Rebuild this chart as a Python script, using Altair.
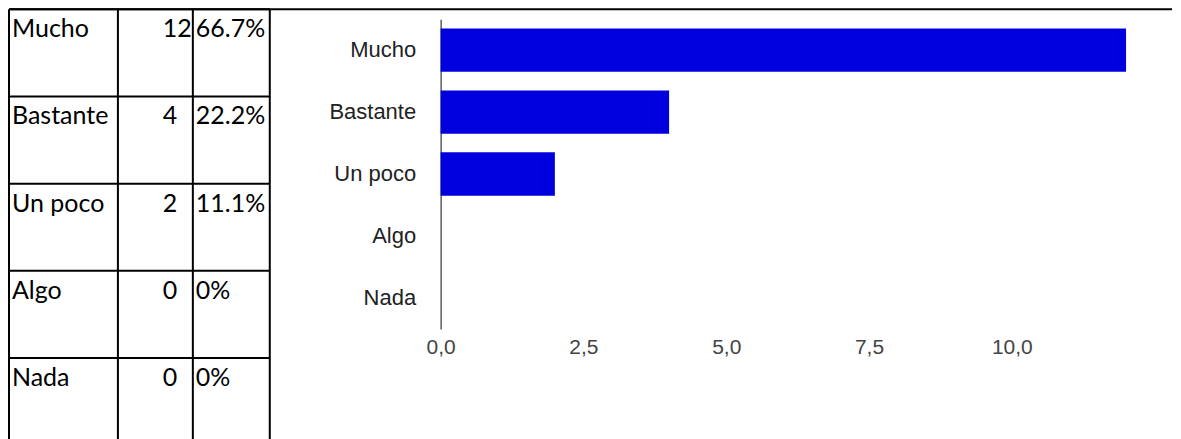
import altair as alt
import pandas as pd

categories = ["Mucho", "Bastante", "Un poco", "Algo", "Nada"]
counts = [12, 4, 2, 0, 0]
percents = ["66.7%", "22.2%", "11.1%", "0%", "0%"]
x_ticks = [0, 2.5, 5, 7.5, 10]

df = pd.DataFrame({"cat": categories, "count": counts, "pct": percents})
one = pd.DataFrame({"k": [0]})

W = 1165
H = 320
TABLE_BOTTOM = 431

bars = alt.Chart(df).mark_bar(color="#0000DF").encode(
    x=alt.X(
        "count:Q",
        scale=alt.Scale(domain=[0, 12], range=[433, 1119], nice=False),
        axis=alt.Axis(
            values=x_ticks,
            labelExpr="replace(format(datum.value, '.1f'), '.', ',')",
            domain=False, ticks=False, grid=False, labelFlush=False,
            labelFont="Liberation Sans", labelFontSize=21, labelColor="#444444",
            labelPadding=8, title=None,
        ),
    ),
    y=alt.Y(
        "cat:N", sort=categories,
        scale=alt.Scale(range=[10, 320], paddingInner=0.3, paddingOuter=0.15),
        axis=alt.Axis(
            offset=-433, ticks=False, grid=False, title=None,
            labelFont="Liberation Sans", labelFontSize=22, labelColor="#222222",
            labelPadding=25, domainColor="#444444", domainWidth=1.3,
        ),
    ),
)

tscale = alt.Scale(type="band", domain=categories, range=[0, 436.5], paddingInner=0, paddingOuter=0)

def ty():
    return alt.Y("cat:N", sort=categories, bandPosition=0, scale=tscale, axis=None)

text_style = dict(align="left", baseline="alphabetic", dy=28, font="Lato", fontSize=25, color="black")

txt_cat = alt.Chart(df).mark_text(**text_style).encode(y=ty(), x=alt.value(4), text="cat:N")
txt_cnt = alt.Chart(df).mark_text(**text_style).encode(y=ty(), x=alt.value(155), text="count:Q")
txt_pct = alt.Chart(df).mark_text(**text_style).encode(y=ty(), x=alt.value(188), text="pct:N")

row_lines = alt.Chart(df).mark_rule(color="black", strokeWidth=2).encode(
    y=ty(), x=alt.value(1), x2=alt.value(262)
)

top_line = alt.Chart(one).mark_rule(color="black", strokeWidth=2).encode(
    y=alt.value(0), x=alt.value(1), x2=alt.value(W)
)

vlines = [
    alt.Chart(one).mark_rule(color="black", strokeWidth=2).encode(
        x=alt.value(xp), y=alt.value(0), y2=alt.value(TABLE_BOTTOM)
    )
    for xp in [1, 110, 185, 262]
]

chart = alt.layer(
    bars, txt_cat, txt_cnt, txt_pct, row_lines, top_line, *vlines
).resolve_scale(y="independent").properties(
    width=W, height=H, padding=0
).configure_view(stroke=None)

chart.save("out.html", embed_options={"renderer": "svg", "actions": False})
